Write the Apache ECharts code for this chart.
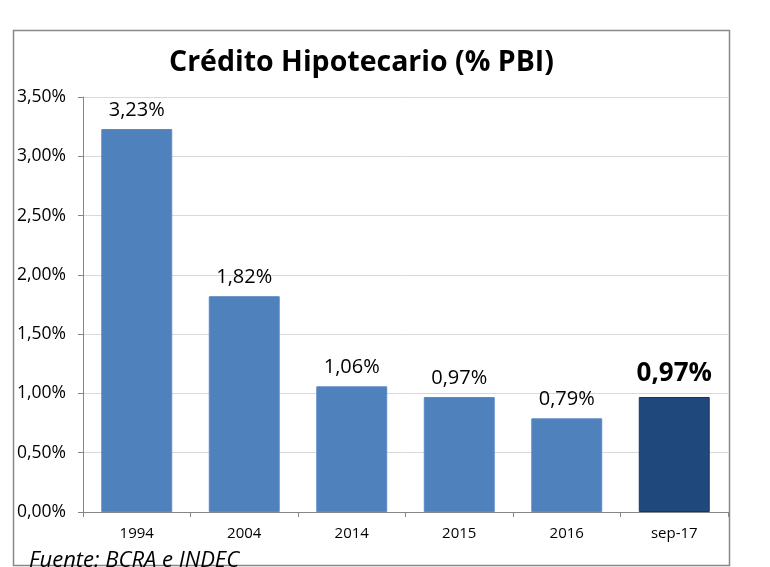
<!DOCTYPE html>
<html><head><meta charset="utf-8">
<script src="https://cdn.jsdelivr.net/npm/echarts@6/dist/echarts.min.js"></script>
<style>html,body{margin:0;padding:0;background:#fff}#c{width:770px;height:567px}</style>
</head><body><div id="c"></div>
<script>
const categories = ['1994', '2004', '2014', '2015', '2016', 'sep-17'];
const values = [3.23, 1.82, 1.06, 0.97, 0.79, 0.97];
const highlightIndex = 5;
const titleText = 'Crédito Hipotecario (% PBI)';
const sourceText = 'Fuente: BCRA e INDEC';

const fmt = v => v.toFixed(2).replace('.', ',') + '%';
const chart = echarts.init(document.getElementById('c'));
const data = values.map((v, i) => i === highlightIndex ? {
  value: v,
  itemStyle: { color: '#1F497D', borderColor: '#17375E', borderWidth: 1 },
  label: { fontWeight: 'bold', fontSize: 26, distance: 10 }
} : { value: v });

chart.setOption({
  animation: false,
  title: [
    { text: titleText, left: 164, top: 43,
      textStyle: { fontFamily: 'Open Sans', fontWeight: 'bold', fontSize: 28.5, color: '#000' } },
    { text: sourceText, left: 24, top: 545,
      textStyle: { fontFamily: 'Open Sans', fontStyle: 'italic', fontWeight: 'normal', fontSize: 22, color: '#000' } }
  ],
  graphic: [{ type: 'rect', shape: { x: 13.5, y: 30.5, width: 716, height: 535 },
    style: { fill: null, stroke: '#888', lineWidth: 1.5 }, silent: true, z: -1 }],
  grid: { left: 83, right: 42, top: 97, bottom: 55 },
  xAxis: {
    type: 'category', data: categories,
    axisLine: { lineStyle: { color: '#868686' } },
    axisTick: { show: true, lineStyle: { color: '#868686' }, length: 5 },
    axisLabel: { fontFamily: 'Open Sans', fontSize: 15, color: '#000', margin: 14 }
  },
  yAxis: {
    type: 'value', min: 0, max: 3.5, interval: 0.5,
    axisLine: { show: true, lineStyle: { color: '#868686' } },
    axisTick: { show: true, inside: false, length: 5, lineStyle: { color: '#868686' } },
    splitLine: { lineStyle: { color: '#D9D9D9' } },
    axisLabel: { formatter: fmt, fontFamily: 'Open Sans', fontSize: 17.5, color: '#000', margin: 17 }
  },
  series: [{
    type: 'bar', data: data, barWidth: '66%',
    itemStyle: { color: '#4F81BD', borderColor: '#5B8BC6', borderWidth: 1 },
    label: { show: true, position: 'top', distance: 9, formatter: p => fmt(p.value),
      fontFamily: 'Open Sans', fontSize: 20, color: '#000' }
  }]
});
</script></body></html>
